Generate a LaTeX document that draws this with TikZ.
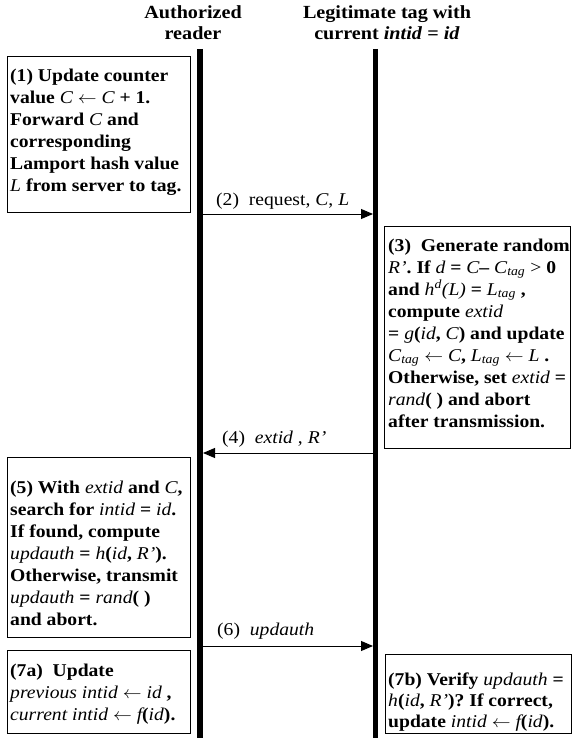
\documentclass[tikz,border=0pt]{standalone}
\usepackage{fontspec}
\usepackage{graphicx}
\setmainfont{Liberation Serif}[
  BoldFont={Liberation Serif Bold},
  ItalicFont={Liberation Serif Italic},
  BoldItalicFont={Liberation Serif Bold Italic}]
\usetikzlibrary{arrows.meta}
\newcommand{\mi}[1]{{\mdseries\itshape #1}}
\newcommand{\lar}{\ensuremath{\leftarrow}}
\newcommand{\sxl}[1]{\scalebox{1.09}[1]{\begin{tabular}{@{}l@{}}#1\end{tabular}}}
\newcommand{\sxc}[1]{\scalebox{1.09}[1]{\begin{tabular}{@{}c@{}}#1\end{tabular}}}
\begin{document}
\begin{tikzpicture}[x=1pt,y=-1pt,
  box/.style={draw, line width=0.8pt, inner sep=0pt, anchor=north west},
  txt/.style={anchor=north west, inner sep=0pt, font=\fontsize{18}{22}\selectfont\bfseries},
  txtb/.style={anchor=north west, inner sep=0pt, font=\fontsize{18}{21}\selectfont\bfseries},
  lab/.style={anchor=base west, inner sep=0pt, font=\fontsize{18}{22}\selectfont},
  hdr/.style={anchor=north, inner sep=0pt, font=\fontsize{18.5}{21}\selectfont\bfseries},
  life/.style={line width=5.5pt},
  msg/.style={line width=0.9pt, -{Triangle[length=12pt,width=10pt]}}]
\useasboundingbox (0,0) rectangle (572,738);
% headers
\node[hdr] (h1) at (193,4) {\sxc{Authorized\\reader}};
\node[hdr] (h2) at (387,4) {\sxc{Legitimate tag with\\current \textit{intid} = \textit{id}}};
% lifelines
\coordinate (ra) at (200,49);
\coordinate (rb) at (200,738);
\coordinate (ta) at (375.5,49);
\coordinate (tb) at (375.5,738);
\draw[life] (ra) -- (rb);
\draw[life] (ta) -- (tb);
% box 1
\node[box, minimum width=183pt, minimum height=156pt] (b1) at (7,56) {};
\node[txt] (t1) at (10,65.6) {\sxl{(1) Update counter\\
value \mi{C} \lar{} \mi{C} + 1.\\
Forward \mi{C} and\\
corresponding\\
Lamport hash value\\
\mi{L} from server to tag.}};
% message 2
\coordinate (m2s) at (203,214);
\coordinate (m2e) at (373,214);
\draw[msg] (m2s) -- (m2e);
\node[lab] (l2) at (216,205) {\scalebox{1.09}[1]{(2)~~request, \textit{C}, \textit{L}}};
% box 3
\node[box, minimum width=186pt, minimum height=222pt] (b3) at (384,226) {};
\node[txt] (t3) at (388,235.6) {\sxl{(3)~~Generate random\\
\mi{R’}. If \mi{d} = \mi{C}– \mi{C}\textsubscript{\mi{tag}} {\mdseries >} 0\\
and \mi{h}\textsuperscript{\mi{d}}\mi{(L)} = \mi{L}\textsubscript{\mi{tag}} ,\\
compute \mi{extid}\\
= \mi{g}(\mi{id}, \mi{C}) and update\\
\mi{C}\textsubscript{\mi{tag}} \lar{} \mi{C}, \mi{L}\textsubscript{\mi{tag}} \lar{} \mi{L} .\\
Otherwise, set \mi{extid} =\\
\mi{rand}( ) and abort\\
after transmission.}};
% message 4
\coordinate (m4s) at (373,453);
\coordinate (m4e) at (203,453);
\draw[msg] (m4s) -- (m4e);
\node[lab] (l4) at (222,443) {\scalebox{1.09}[1]{(4)~~\textit{extid} , \textit{R’}}};
% box 5
\node[box, minimum width=183pt, minimum height=180pt] (b5) at (7,457) {};
\node[txt] (t5) at (10,477.6) {\sxl{(5) With \mi{extid} and \mi{C},\\
search for \mi{intid} = \mi{id}.\\
If found, compute\\
\mi{updauth} = \mi{h}(\mi{id}, \mi{R’}).\\
Otherwise, transmit\\
\mi{updauth} = \mi{rand}( )\\
and abort.}};
% message 6
\coordinate (m6s) at (203,646);
\coordinate (m6e) at (373,646);
\draw[msg] (m6s) -- (m6e);
\node[lab] (l6) at (217,635) {\scalebox{1.09}[1]{(6)~~\textit{updauth}}};
% box 7a
\node[box, minimum width=183pt, minimum height=83pt] (b7a) at (7,650) {};
\node[txt] (t7a) at (10,660.6) {\sxl{(7a)~~Update\\
\mi{previous intid} \lar{} \mi{id} ,\\
\mi{current intid} \lar{} \mi{f}(\mi{id}).}};
% box 7b
\node[box, minimum width=186pt, minimum height=79pt] (b7b) at (385,654) {};
\node[txtb] (t7b) at (388,670.5) {\sxl{(7b) Verify \mi{updauth} =\\
\mi{h}(\mi{id}, \mi{R’})? If correct,\\
update \mi{intid} \lar{} \mi{f}(\mi{id}).}};
\end{tikzpicture}
\end{document}
